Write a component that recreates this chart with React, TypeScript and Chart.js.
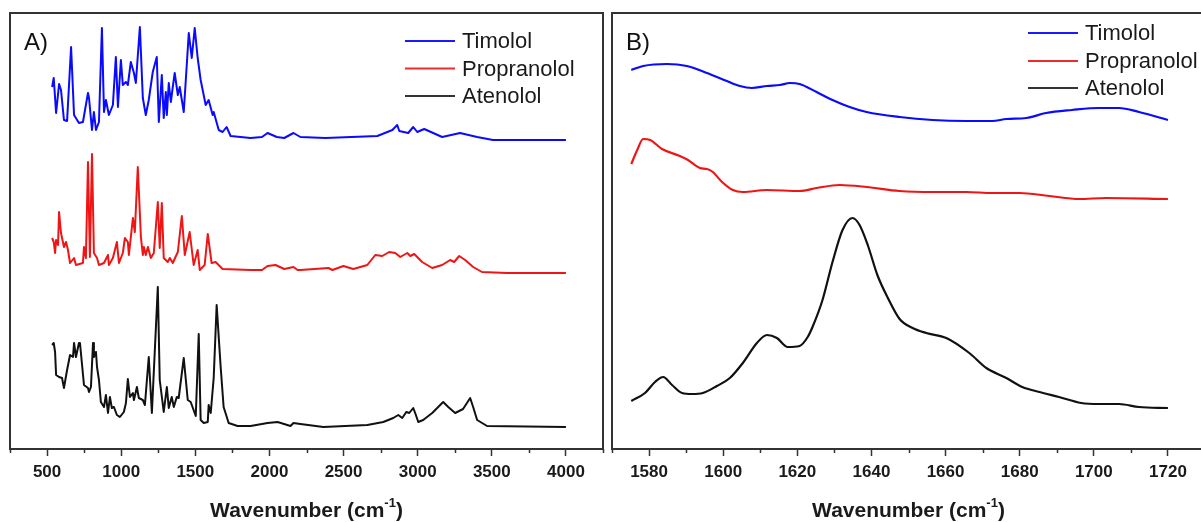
import { useEffect, useRef } from "react";
import { Chart, registerables } from "chart.js";

Chart.register(...registerables);

// ---------- DATA (wavenumber in cm-1, intensity in arbitrary offset units) ----------
const timololFullWn = [534,545,561,581,594,614,635,662,682,715,742,776,783,803,816,830,850,870,884,897,917,944,964,978,998,1011,1032,1045,1065,1086,1099,1126,1146,1166,1186,1213,1240,1254,1274,1287,1301,1308,1321,1335,1348,1361,1382,1395,1422,1435,1456,1476,1496,1516,1536,1570,1590,1617,1624,1658,1684,1711,1738,1873,1950,1987,2050,2100,2162,2209,2378,2728,2829,2862,2876,2936,2970,2997,3044,3165,3286,3401,3508,4000];
const timololFullAbs = [362,371,336,365,359,329,328,402,334,326,327,356,351,319,337,319,327,421,337,349,334,344,392,342,389,364,367,364,387,376,366,422,351,334,349,377,392,327,374,331,357,334,366,347,362,376,354,362,337,367,416,391,421,391,369,344,349,334,337,319,317,322,313,311,312,316,312,311,316,312,311,313,319,324,318,316,322,317,320,312,316,312,309,309];

const propranololFullWn = [534,545,554,561,574,581,594,614,628,641,655,682,695,742,749,762,776,789,803,816,837,850,884,911,917,944,971,985,1011,1025,1045,1052,1079,1092,1112,1133,1146,1153,1166,1180,1200,1220,1247,1260,1274,1287,1314,1328,1348,1382,1409,1429,1462,1489,1516,1530,1563,1584,1610,1637,1684,1873,1950,1987,2041,2100,2162,2190,2209,2398,2425,2499,2566,2660,2714,2761,2808,2849,2882,2930,2950,2977,3030,3098,3165,3219,3246,3280,3320,3374,3434,3603,4000];
const propranololFullAbs = [211,207,196,209,204,237,216,202,207,199,186,191,184,186,202,191,287,192,295,196,191,184,186,194,184,191,207,186,196,211,207,194,231,217,282,212,194,202,194,202,191,196,247,201,246,191,187,191,186,197,233,194,217,184,199,179,184,215,186,187,180,179,179,183,184,180,182,179,179,181,179,183,180,184,194,193,197,196,192,196,193,195,187,181,184,189,187,193,189,182,177,176,176];

const atenololFullWn = [534,545,554,561,581,601,614,635,655,675,682,695,715,722,749,776,783,796,810,816,830,837,850,863,884,897,911,924,937,951,971,991,1018,1032,1045,1059,1079,1086,1106,1119,1146,1160,1186,1207,1247,1260,1287,1308,1321,1341,1355,1375,1388,1422,1449,1469,1503,1523,1536,1557,1584,1590,1604,1624,1644,1671,1691,1725,1785,1873,1987,2055,2142,2162,2209,2364,2660,2768,2835,2869,2896,2923,2943,2970,2983,3004,3037,3098,3172,3206,3253,3306,3354,3374,3401,3468,4000];
const atenololFullAbs = [104,106,97,74,72,71,61,79,94,92,106,92,106,106,64,61,57,62,106,92,97,82,69,47,42,54,36,52,41,42,34,32,37,46,70,52,56,49,62,51,49,44,92,36,162,69,37,62,41,52,42,52,51,91,49,47,33,115,29,26,27,44,36,71,144,82,42,26,23,23,26,27,23,26,25,22,24,27,31,34,31,37,36,41,36,27,29,36,47,42,36,40,51,42,29,23,22];

const timololZoomWn = [1575.2,1578.4,1584.8,1590.2,1595.6,1601.0,1604.5,1607.7,1611.8,1615.3,1618.0,1620.6,1625.2,1629.5,1634.1,1638.7,1647.6,1656.5,1665.6,1672.6,1676.4,1681.8,1687.1,1694.1,1701.4,1706.8,1712.2,1720.0];
const timololZoomAbs = [379,383,385,383,376,368,363,361,363,364,366,365,357,349,342,337,332,329,328,328,330,331,336,339,341,341,337,329];

const propranololZoomWn = [1575.2,1576.8,1578.4,1580.3,1583.5,1588.3,1590.5,1593.7,1595.6,1597.2,1599.7,1602.6,1605.3,1611.8,1620.6,1625.2,1631.4,1638.7,1647.6,1656.5,1665.6,1672.6,1679.9,1688.0,1696.0,1703.3,1720.0];
const propranololZoomAbs = [285,299,310,309,300,293,289,281,280,277,267,259,257,259,258,261,264,262,258,257,257,256,256,253,250,251,250];

const atenololZoomWn = [1575.2,1578.9,1581.6,1583.8,1586.2,1588.9,1591.6,1594.5,1598.3,1601.8,1605.3,1609.1,1611.8,1614.5,1617.4,1620.6,1622.8,1624.1,1626.8,1629.5,1632.2,1634.9,1636.8,1639.0,1641.6,1644.3,1647.6,1651.1,1654.8,1660.2,1666.4,1671.0,1676.4,1680.7,1685.3,1690.6,1696.6,1701.4,1706.8,1712.2,1720.0];
const atenololZoomAbs = [48,56,67,72,64,56,55,56,63,71,86,106,114,111,102,103,112,122,149,187,219,231,224,204,174,152,130,121,116,111,96,81,71,62,57,52,46,45,45,42,41];

const seriesNames = ["Timolol", "Propranolol", "Atenolol"];
const fullMajorTicks = [500, 1000, 1500, 2000, 2500, 3000, 3500, 4000];
const fullMinorTicks = [250, 750, 1250, 1750, 2250, 2750, 3250, 3750, 4250];
const zoomMajorTicks = [1580, 1600, 1620, 1640, 1660, 1680, 1700, 1720];
const zoomMinorTicks = [1570, 1590, 1610, 1630, 1650, 1670, 1690, 1710, 1730];
const axisTitle = "Wavenumber (cm";
const axisTitleSup = "-1";

// ---------- STYLE / LAYOUT ----------
const FONT = "'Liberation Sans', Arial, Helvetica, sans-serif";
const COLORS = ["#0a0aff", "#f01515", "#111111"];
const LEGEND_COLORS = ["#1a1aff", "#f02a2a", "#333333"];

type PanelSpec = {
  letter: string;
  canvasLeft: number;
  canvasWidth: number;
  pad: { left: number; right: number; top: number };
  xMin: number;
  xMax: number;
  major: number[];
  minor: number[];
  wn: number[][];
  abs: number[][];
  lineWidth: number;
  smooth: boolean;
  legendX: number;
  legendY: number[];
};

const panels: PanelSpec[] = [
  {
    letter: "A)",
    canvasLeft: 0,
    canvasWidth: 606,
    pad: { left: 10, right: 3, top: 13 },
    xMin: 250,
    xMax: 4250,
    major: fullMajorTicks,
    minor: fullMinorTicks,
    wn: [timololFullWn, propranololFullWn, atenololFullWn],
    abs: [timololFullAbs, propranololFullAbs, atenololFullAbs],
    lineWidth: 2,
    smooth: false,
    legendX: 405,
    legendY: [41, 68.5, 96],
  },
  {
    letter: "B)",
    canvasLeft: 604,
    canvasWidth: 604,
    pad: { left: 8, right: 3, top: 13 },
    xMin: 1570,
    xMax: 1730,
    major: zoomMajorTicks,
    minor: zoomMinorTicks,
    wn: [timololZoomWn, propranololZoomWn, atenololZoomWn],
    abs: [timololZoomAbs, propranololZoomAbs, atenololZoomAbs],
    lineWidth: 2.2,
    smooth: true,
    legendX: 424,
    legendY: [33, 61, 88],
  },
];

function decorPlugin(p: PanelSpec) {
  return {
    id: "panelDecor",
    afterDraw(chart: any) {
      const { ctx, chartArea: a, scales } = chart;
      const xs = scales.x;
      ctx.save();
      // frame
      ctx.strokeStyle = "#333333";
      ctx.lineWidth = 2;
      ctx.strokeRect(a.left, a.top, a.right - a.left, a.bottom - a.top);
      // minor ticks
      ctx.lineWidth = 1.5;
      ctx.strokeStyle = "#333";
      ctx.beginPath();
      for (const v of p.minor) {
        const x = Math.round(xs.getPixelForValue(v)) + 0.5;
        ctx.moveTo(x, a.bottom);
        ctx.lineTo(x, a.bottom + 4);
      }
      ctx.stroke();
      // panel letter
      ctx.fillStyle = "#111";
      ctx.font = `24px ${FONT}`;
      ctx.textAlign = "left";
      ctx.textBaseline = "alphabetic";
      ctx.fillText(p.letter, a.left + 14, 50);
      // legend
      ctx.font = `22px ${FONT}`;
      ctx.textBaseline = "middle";
      seriesNames.forEach((name, i) => {
        const y = p.legendY[i];
        ctx.strokeStyle = LEGEND_COLORS[i];
        ctx.lineWidth = 2;
        ctx.beginPath();
        ctx.moveTo(p.legendX, y);
        ctx.lineTo(p.legendX + 50, y);
        ctx.stroke();
        ctx.fillStyle = "#1a1a1a";
        ctx.fillText(name, p.legendX + 57, y + 1);
      });
      // axis title with superscript
      const cx = (a.left + a.right) / 2;
      ctx.fillStyle = "#1a1a1a";
      ctx.textBaseline = "alphabetic";
      ctx.font = `bold 21px ${FONT}`;
      const w1 = ctx.measureText(axisTitle).width;
      const w3 = ctx.measureText(")").width;
      ctx.font = `bold 13px ${FONT}`;
      const w2 = ctx.measureText(axisTitleSup).width;
      let x0 = cx - (w1 + w2 + w3) / 2;
      ctx.font = `bold 21px ${FONT}`;
      ctx.fillText(axisTitle, x0, 517);
      x0 += w1;
      ctx.font = `bold 13px ${FONT}`;
      ctx.fillText(axisTitleSup, x0, 507);
      x0 += w2;
      ctx.font = `bold 21px ${FONT}`;
      ctx.fillText(")", x0, 517);
      ctx.restore();
    },
  };
}

function buildConfig(p: PanelSpec): any {
  return {
    type: "line",
    data: {
      datasets: seriesNames.map((name, i) => ({
        label: name,
        data: p.wn[i].map((x, j) => ({ x, y: p.abs[i][j] })),
        borderColor: COLORS[i],
        borderWidth: p.lineWidth,
        borderJoinStyle: "round",
        pointRadius: 0,
        fill: false,
        tension: p.smooth ? 0.4 : 0,
        cubicInterpolationMode: p.smooth ? "monotone" : "default",
      })),
    },
    options: {
      responsive: false,
      maintainAspectRatio: false,
      animation: false,
      events: [],
      layout: { padding: { left: p.pad.left, right: p.pad.right, top: p.pad.top, bottom: 0 } },
      plugins: { legend: { display: false }, tooltip: { enabled: false }, title: { display: false } },
      scales: {
        x: {
          type: "linear",
          min: p.xMin,
          max: p.xMax,
          afterBuildTicks: (s: any) => {
            s.ticks = p.major.map((v) => ({ value: v }));
          },
          afterFit: (s: any) => {
            s.height = 73;
          },
          grid: {
            display: true,
            drawOnChartArea: false,
            drawTicks: true,
            tickLength: 7,
            tickWidth: 1.5,
            tickColor: "#333",
          },
          border: { display: false },
          ticks: {
            autoSkip: false,
            maxRotation: 0,
            padding: 6,
            color: "#1a1a1a",
            font: { family: FONT, size: 17, weight: "bold" },
            callback: (v: any) => String(v),
          },
        },
        y: { type: "linear", display: false, min: 0, max: 436 },
      },
    },
    plugins: [decorPlugin(p)],
  };
}

function Panel({ spec }: { spec: PanelSpec }) {
  const ref = useRef<HTMLCanvasElement>(null);
  useEffect(() => {
    const chart = new Chart(ref.current as HTMLCanvasElement, buildConfig(spec));
    return () => chart.destroy();
  }, [spec]);
  return (
    <canvas
      ref={ref}
      width={spec.canvasWidth}
      height={522}
      style={{ position: "absolute", left: spec.canvasLeft, top: 0, width: spec.canvasWidth, height: 522 }}
    />
  );
}

export default function App() {
  return (
    <div
      style={{
        position: "absolute",
        left: 0,
        top: 0,
        width: 1201,
        height: 522,
        overflow: "hidden",
        background: "#ffffff",
      }}
    >
      {panels.map((p) => (
        <Panel key={p.letter} spec={p} />
      ))}
    </div>
  );
}
